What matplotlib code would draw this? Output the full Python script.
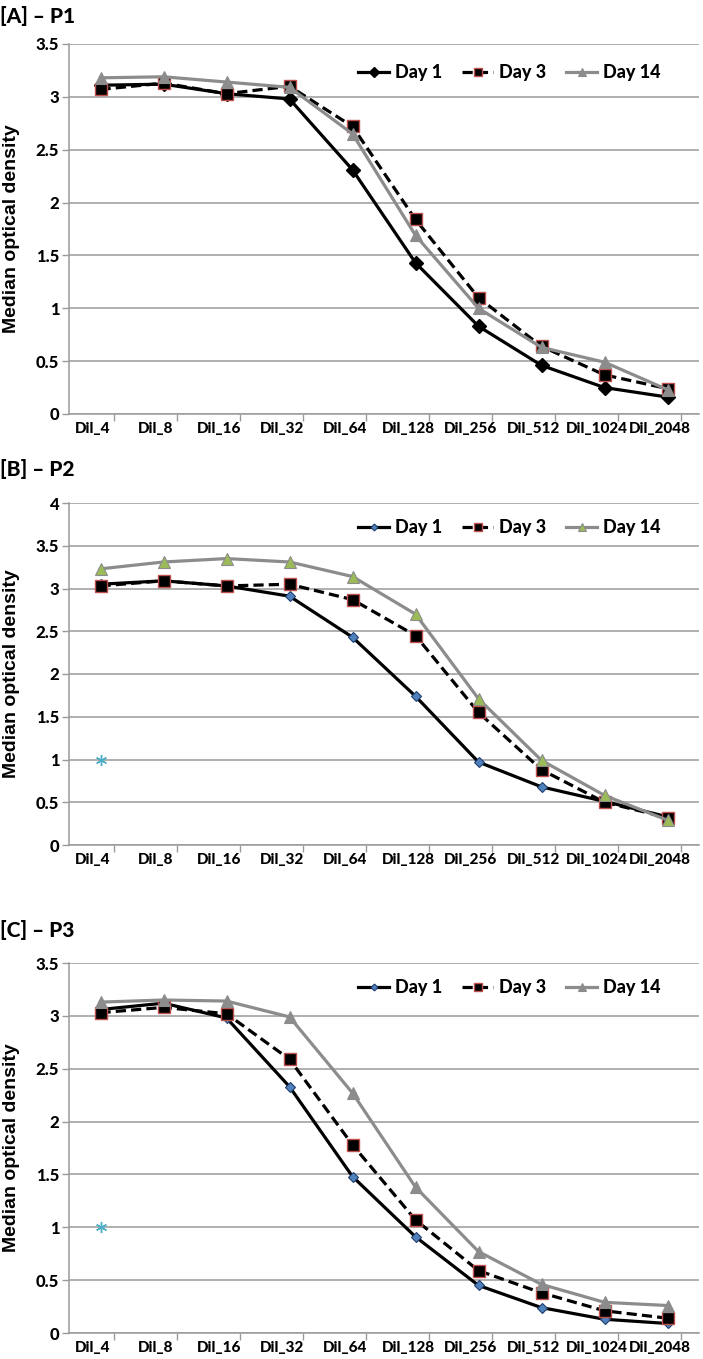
import matplotlib

matplotlib.use("Agg")
import matplotlib.pyplot as plt  # noqa: E402
import numpy as np  # noqa: E402

dilutions = ["Dil_4", "Dil_8", "Dil_16", "Dil_32", "Dil_64",
             "Dil_128", "Dil_256", "Dil_512", "Dil_1024", "Dil_2048"]
series_names = ["Day 1", "Day 3", "Day 14"]

# panel A - P1
p1_day1 = [3.11, 3.12, 3.03, 2.98, 2.31, 1.43, 0.83, 0.46, 0.25, 0.16]
p1_day3 = [3.07, 3.13, 3.03, 3.10, 2.72, 1.84, 1.10, 0.64, 0.37, 0.24]
p1_day14 = [3.18, 3.19, 3.14, 3.09, 2.65, 1.69, 1.00, 0.63, 0.49, 0.23]

# panel B - P2
p2_day1 = [3.05, 3.09, 3.03, 2.91, 2.43, 1.74, 0.97, 0.68, 0.51, 0.33]
p2_day3 = [3.03, 3.09, 3.03, 3.05, 2.87, 2.45, 1.55, 0.88, 0.50, 0.32]
p2_day14 = [3.23, 3.31, 3.35, 3.31, 3.14, 2.70, 1.71, 0.99, 0.58, 0.29]

# panel C - P3
p3_day1 = [3.06, 3.12, 2.98, 2.33, 1.48, 0.91, 0.45, 0.24, 0.13, 0.09]
p3_day3 = [3.03, 3.08, 3.02, 2.59, 1.78, 1.07, 0.59, 0.38, 0.21, 0.14]
p3_day14 = [3.13, 3.15, 3.14, 2.99, 2.27, 1.38, 0.77, 0.46, 0.29, 0.26]

# stray single point (asterisk) at Dil_4 in panels B and C
stray_value = 1.0

COND = ["Lato", "DejaVu Sans"]
HEAVY = 900
GRID = "#9a9a9a"

x = np.arange(len(dilutions))

fig = plt.figure(figsize=(7.03, 13.59), dpi=100)

panels = [
    dict(title="[A] \u2013 P1", rect=[69 / 703, 1 - 414 / 1359, 630 / 703, 370 / 1359],
         data=[p1_day1, p1_day3, p1_day14], ymax=3.5, stray=False, style="A",
         title_y=1 - 16 / 1359, leg_y=0.99),
    dict(title="[B] \u2013 P2", rect=[69 / 703, 1 - 845 / 1359, 630 / 703, 342 / 1359],
         data=[p2_day1, p2_day3, p2_day14], ymax=4.0, stray=True, style="B",
         title_y=1 - 469 / 1359, leg_y=1.0),
    dict(title="[C] \u2013 P3", rect=[69 / 703, 1 - 1333 / 1359, 630 / 703, 370 / 1359],
         data=[p3_day1, p3_day3, p3_day14], ymax=3.5, stray=True, style="C",
         title_y=1 - 930 / 1359, leg_y=1.0),
]

for p in panels:
    ax = fig.add_axes(p["rect"])
    d1, d3, d14 = p["data"]
    if p["style"] == "A":
        m1 = dict(marker="D", ms=7, mfc="black", mec="black")
    else:
        m1 = dict(marker="D", ms=5, mfc="#4f81bd", mec="#1f3f6f", mew=0.8)
    tri_fc = "#9bbb59" if p["style"] == "B" else "#8c8c8c"

    ax.plot(x, d1, color="black", lw=2.3, label=series_names[0], zorder=3, **m1)
    ax.plot(x, d3, color="black", lw=2.3, ls=(0, (3.2, 1.6)), marker="s", ms=8,
            mfc="black", mec="#c0504d", mew=1.0, label=series_names[1], zorder=4)
    ax.plot(x, d14, color="#8c8c8c", lw=2.3, marker="^", ms=9, mfc=tri_fc,
            mec="#8c8c8c", mew=0.8, label=series_names[2], zorder=5)
    if p["stray"]:
        ax.plot([x[0]], [stray_value], ls="none", marker=(6, 2, 0), ms=8,
                mec="#4bacc6", mew=1.0, zorder=6)

    ax.set_xlim(-0.5, len(dilutions) - 0.5)
    ax.set_ylim(0, p["ymax"])
    yt = np.arange(0, p["ymax"] + 0.01, 0.5)
    ax.set_yticks(yt)
    ax.set_yticklabels([f"{v:g}" for v in yt], family=COND, fontweight=HEAVY, fontsize=12)
    ax.yaxis.grid(True, color=GRID, lw=1.1)
    ax.set_axisbelow(True)

    ax.set_xticks(x - 0.12)
    ax.set_xticklabels(dilutions, family=COND, fontweight=HEAVY, fontsize=11)
    ax.tick_params(axis="x", length=0, pad=6)
    ax.set_xticks(x + 0.22, minor=True)
    ax.tick_params(axis="x", which="minor", length=5, color=GRID, width=1)
    ax.tick_params(axis="y", length=5, color=GRID, width=1, pad=2)

    for side in ("top", "right"):
        ax.spines[side].set_visible(False)
    for side in ("left", "bottom"):
        ax.spines[side].set_color(GRID)
        ax.spines[side].set_linewidth(1.1)

    ax.set_ylabel("Median optical density", family=["Liberation Sans", "DejaVu Sans"],
                  fontweight="bold", fontsize=14)
    ax.yaxis.set_label_coords(-0.077, 0.5)

    ax.legend(loc="upper right", bbox_to_anchor=(0.965, p["leg_y"]), ncol=3, frameon=False,
              prop=dict(family=COND, weight=HEAVY, size=13), handlelength=1.7,
              handletextpad=0.35, columnspacing=1.1, markerscale=0.7)

    fig.text(0.0, p["title_y"], p["title"], family=COND, fontweight=HEAVY, fontsize=15,
             va="center", ha="left")

fig.savefig("out.png", dpi=100)
plt.close(fig)
